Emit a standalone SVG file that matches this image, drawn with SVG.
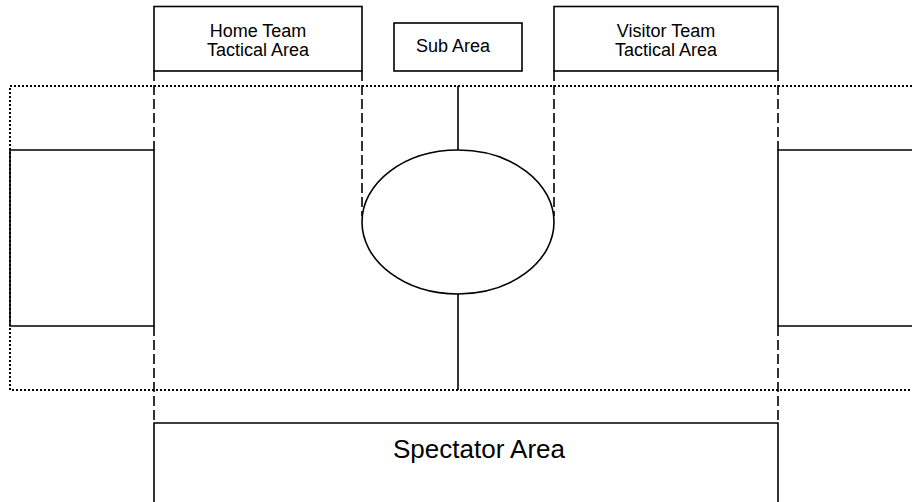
<svg xmlns="http://www.w3.org/2000/svg" width="912" height="502" viewBox="0 0 912 502">
<style>
.box{fill:none;stroke:#000;stroke-width:1.6}
.dash{fill:none;stroke:#000;stroke-width:1.6;stroke-dasharray:10,4}
.dot{fill:none;stroke:#000;stroke-width:2;stroke-dasharray:2,2}
.lbl{font-family:"Liberation Sans",Arial,sans-serif;font-size:18px;fill:#000;text-anchor:middle}
.big{font-family:"Liberation Sans",Arial,sans-serif;font-size:26px;fill:#000;text-anchor:middle}
</style>
<rect width="912" height="502" fill="#fff"/>
<g id="field">
<path class="dot" d="M912,86 H10 V390 H912"/>
</g>
<g id="connectors">
<line class="box" x1="458" y1="86" x2="458" y2="150"/>
<line class="box" x1="458" y1="294" x2="458" y2="390"/>
<line class="dash" x1="154" y1="71" x2="154" y2="150"/>
<line class="dash" x1="154" y1="326" x2="154" y2="423"/>
<line class="dash" x1="778" y1="71" x2="778" y2="150"/>
<line class="dash" x1="778" y1="326" x2="778" y2="423"/>
<line class="dash" x1="362" y1="71" x2="362" y2="216"/>
<line class="dash" x1="554" y1="71" x2="554" y2="216"/>
</g>
<g id="home">
<rect class="box" x="154" y="6.5" width="208" height="64.5"/>
<text class="lbl" x="258" y="37">Home Team</text>
<text class="lbl" x="258" y="56">Tactical Area</text>
</g>
<g id="sub">
<rect class="box" x="394" y="23" width="128" height="48"/>
<text class="lbl" x="453" y="52">Sub Area</text>
</g>
<g id="visitor">
<rect class="box" x="554" y="6.5" width="224" height="64.5"/>
<text class="lbl" x="666" y="37">Visitor Team</text>
<text class="lbl" x="666" y="56">Tactical Area</text>
</g>
<g id="center-circle">
<ellipse class="box" cx="458" cy="222" rx="96" ry="72"/>
</g>
<g id="left-goal">
<path class="box" d="M10,150 H154 V326 H10 Z"/>
</g>
<g id="right-goal">
<path class="box" d="M914,150 H778 V326 H914"/>
</g>
<g id="spectator">
<path class="box" d="M154,510 V423 H778 V510"/>
<text class="big" x="479" y="458">Spectator Area</text>
</g>
</svg>
